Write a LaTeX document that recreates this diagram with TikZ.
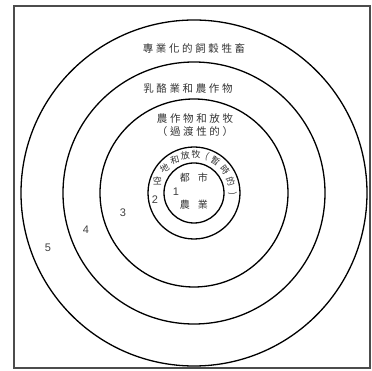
\documentclass[tikz,border=0pt]{standalone}
\usepackage{fontspec}
\setsansfont{Liberation Sans}
\newfontfamily\cjk[LetterSpace=25]{Noto Sans CJK TC}
\newfontfamily\cjkplain{Noto Sans CJK TC}
\begin{document}
\begin{tikzpicture}[x=1pt,y=1pt,
  ring/.style={line width=1.3pt},
  zone/.style={font=\cjk\fontsize{10.5}{12.5}\selectfont,text=black!80,inner sep=0pt,align=center},
  arcch/.style={font=\cjkplain\fontsize{9}{10}\selectfont,text=black!80,inner sep=0pt},
  num/.style={font=\sffamily\fontsize{11}{12}\selectfont,text=black!75,inner sep=0pt}]
\useasboundingbox (-194,-178) rectangle (178,193);
\draw[black!70,line width=1.5pt] (-180,-175) rectangle (176,187);
\coordinate (c) at (0,0);
\foreach \r in {30,46,94,131,173}
  \draw[ring] (c) circle[radius=\r pt];
\node[zone] (z5) at (0,145) {專業化的飼穀牲畜};
\node[zone] (z4) at (-6,104) {乳酪業和農作物};
\node[zone] (z3) at (1,68) {農作物和放牧\\（過渡性的）};
\node[arcch,font=\cjkplain\fontsize{10}{11}\selectfont] (top1) at (0,15) {都\hspace{8pt}市};
\node[arcch,font=\cjkplain\fontsize{10}{11}\selectfont] (bot1) at (0,-12) {農\hspace{8pt}業};
\foreach \a/\t/\ch [count=\i] in {162/0/空,140/30/地,120/15/和,103/6/放,87/-3/牧,
    70/-22/(,56/-32/暫,37/-52/時,17/-70/的,-1/-85/)}
  \node[arcch,rotate=\t] (a\i) at (\a:38.5) {\ch};
\node[num] (n1) at (-18,1) {1};
\node[num] (n2) at (-39,-7) {2};
\node[num] (n3) at (-71,-20) {3};
\node[num] (n4) at (-108,-37) {4};
\node[num] (n5) at (-146,-55) {5};
\end{tikzpicture}
\end{document}
